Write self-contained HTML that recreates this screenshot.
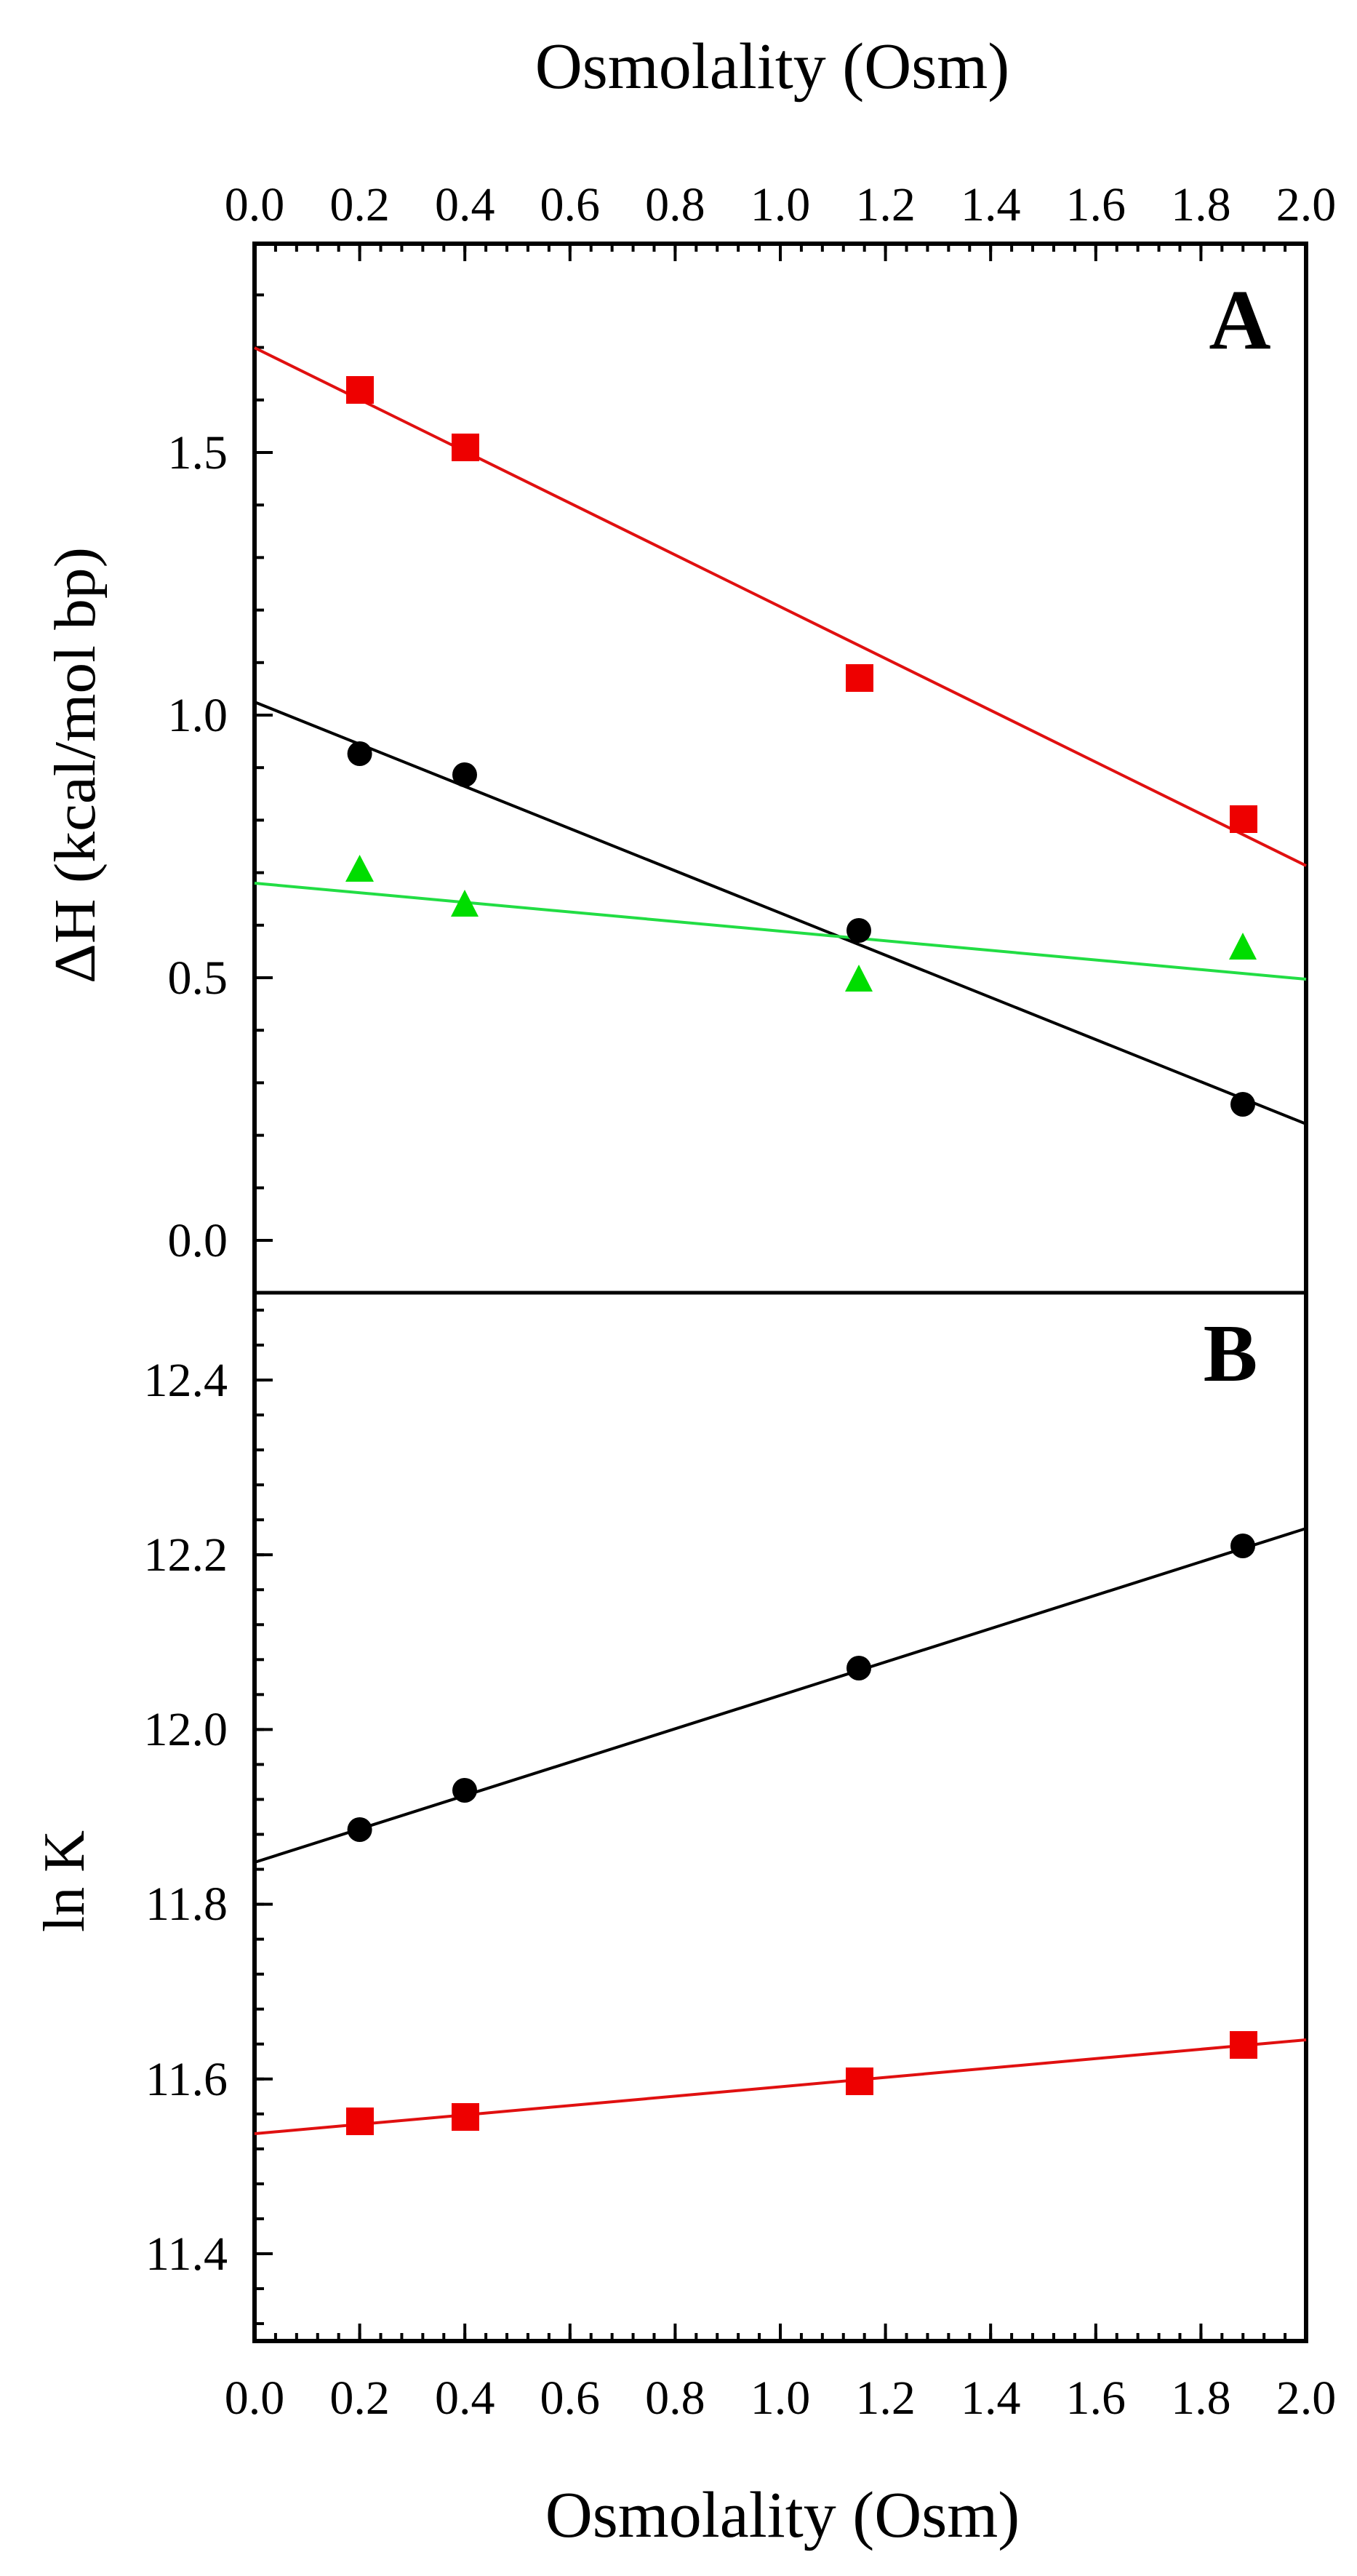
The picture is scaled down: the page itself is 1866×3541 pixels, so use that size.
<!DOCTYPE html>
<html><head><meta charset="utf-8"><style>html,body{margin:0;padding:0;background:#fff}svg{display:block}</style></head>
<body>
<svg width="1866" height="3541" viewBox="0 0 1866 3541" xmlns="http://www.w3.org/2000/svg" font-family="Liberation Serif, serif">
<defs>
<pattern id="xminT" patternUnits="userSpaceOnUse" x="348" y="0" width="28.92" height="10"><rect x="0" y="0" width="4" height="10" fill="#000"/></pattern>
<pattern id="xmajT" patternUnits="userSpaceOnUse" x="348" y="0" width="144.6" height="10"><rect x="0" y="0" width="4" height="10" fill="#000"/></pattern>
<pattern id="yA" patternUnits="userSpaceOnUse" x="0" y="1703" width="10" height="72.2"><rect x="0" y="0" width="10" height="4" fill="#000"/></pattern>
<pattern id="yAM" patternUnits="userSpaceOnUse" x="0" y="1703" width="10" height="361"><rect x="0" y="0" width="10" height="4" fill="#000"/></pattern>
<pattern id="yB" patternUnits="userSpaceOnUse" x="0" y="1895" width="10" height="48.04"><rect x="0" y="0" width="10" height="4" fill="#000"/></pattern>
<pattern id="yBM" patternUnits="userSpaceOnUse" x="0" y="1895" width="10" height="240.2"><rect x="0" y="0" width="10" height="4" fill="#000"/></pattern>
</defs>

<text x="1062" y="121" font-size="90" text-anchor="middle">Osmolality (Osm)</text>
<text x="1076" y="3487" font-size="90" text-anchor="middle">Osmolality (Osm)</text>

<g font-size="66" text-anchor="middle">
<text x="350" y="303">0.0</text><text x="494.6" y="303">0.2</text><text x="639.2" y="303">0.4</text><text x="783.8" y="303">0.6</text><text x="928.4" y="303">0.8</text><text x="1073" y="303">1.0</text><text x="1217.6" y="303">1.2</text><text x="1362.2" y="303">1.4</text><text x="1506.8" y="303">1.6</text><text x="1651.4" y="303">1.8</text><text x="1796" y="303">2.0</text>
<text x="350" y="3318">0.0</text><text x="494.6" y="3318">0.2</text><text x="639.2" y="3318">0.4</text><text x="783.8" y="3318">0.6</text><text x="928.4" y="3318">0.8</text><text x="1073" y="3318">1.0</text><text x="1217.6" y="3318">1.2</text><text x="1362.2" y="3318">1.4</text><text x="1506.8" y="3318">1.6</text><text x="1651.4" y="3318">1.8</text><text x="1796" y="3318">2.0</text>
</g>
<g font-size="66" text-anchor="end">
<text x="313" y="644">1.5</text><text x="313" y="1005">1.0</text><text x="313" y="1366">0.5</text><text x="313" y="1727">0.0</text>
<text x="313" y="1919">12.4</text><text x="313" y="2159">12.2</text><text x="313" y="2399">12.0</text><text x="313" y="2639">11.8</text><text x="313" y="2880">11.6</text><text x="313" y="3120">11.4</text>
</g>

<text transform="translate(130,1052) rotate(-90)" font-size="80" text-anchor="middle" textLength="600" lengthAdjust="spacingAndGlyphs">ΔH (kcal/mol bp)</text>
<text transform="translate(115,2586) rotate(-90)" font-size="80" text-anchor="middle">ln K</text>

<rect x="350" y="335" width="1448" height="11" fill="url(#xminT)"/>
<rect x="350" y="335" width="1448" height="24" fill="url(#xmajT)"/>
<rect x="350" y="3207" width="1448" height="11" fill="url(#xminT)"/>
<rect x="350" y="3194" width="1448" height="24" fill="url(#xmajT)"/>
<rect x="350" y="340" width="13" height="1437" fill="url(#yA)"/>
<rect x="350" y="340" width="25" height="1437" fill="url(#yAM)"/>
<rect x="350" y="1779" width="13" height="1437" fill="url(#yB)"/>
<rect x="350" y="1779" width="25" height="1437" fill="url(#yBM)"/>

<rect x="350" y="335" width="1446" height="2883" fill="none" stroke="#000" stroke-width="6"/>
<line x1="350" y1="1777" x2="1796" y2="1777" stroke="#000" stroke-width="5"/>

<text x="1705" y="479" font-size="118" font-weight="bold" text-anchor="middle">A</text>
<text x="1692" y="1898" font-size="112" font-weight="bold" text-anchor="middle">B</text>

<line x1="350" y1="478" x2="1796" y2="1190" stroke="#e01010" stroke-width="4"/>
<line x1="350" y1="965" x2="1796" y2="1545" stroke="#000" stroke-width="4"/>
<line x1="350" y1="1214" x2="1796" y2="1346" stroke="#22dd44" stroke-width="4"/>
<g fill="#ee0000">
<rect x="476" y="517" width="38" height="38"/><rect x="621" y="596" width="38" height="38"/><rect x="1163" y="913" width="38" height="38"/><rect x="1691" y="1107" width="38" height="38"/>
</g>
<g fill="#000">
<circle cx="494.6" cy="1036" r="17"/><circle cx="639" cy="1065" r="17"/><circle cx="1181" cy="1279" r="17"/><circle cx="1709" cy="1518" r="17"/>
</g>
<g fill="#00dd00">
<polygon points="494.6,1175 475,1212 514,1212"/><polygon points="639,1223 620,1260 658,1260"/><polygon points="1181,1326 1162,1363 1200,1363"/><polygon points="1709,1282 1690,1319 1728,1319"/>
</g>

<line x1="350" y1="2933" x2="1796" y2="2804" stroke="#e01010" stroke-width="4"/>
<line x1="350" y1="2560" x2="1796" y2="2101" stroke="#000" stroke-width="4"/>
<g fill="#ee0000">
<rect x="476" y="2897" width="38" height="38"/><rect x="621" y="2891" width="38" height="38"/><rect x="1163" y="2842" width="38" height="38"/><rect x="1691" y="2792" width="38" height="38"/>
</g>
<g fill="#000">
<circle cx="494.6" cy="2515" r="17"/><circle cx="639" cy="2461" r="17"/><circle cx="1181" cy="2293" r="17"/><circle cx="1709" cy="2125" r="17"/>
</g>
</svg>
</body></html>
